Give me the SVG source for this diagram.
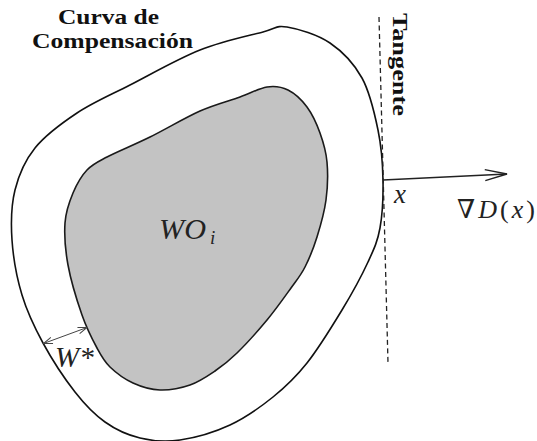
<svg xmlns="http://www.w3.org/2000/svg" width="537" height="441" viewBox="0 0 537 441">
  <style>
    .curve { fill: none; stroke: #111; stroke-width: 1.6; }
    .region { fill: #c3c3c3; stroke: #1a1a1a; stroke-width: 1.6; }
    .tangent { stroke: #222; stroke-width: 1.3; stroke-dasharray: 5 3.5; fill: none; }
    .title { font-family: "Liberation Serif", "Times New Roman", "DejaVu Serif", serif; font-weight: bold; font-size: 22px; fill: #111; }
    .math { font-family: "Liberation Serif", "Times New Roman", "DejaVu Serif", serif; font-style: italic; fill: #222; }
  </style>
  <defs>
    <marker id="openArrow" viewBox="0 0 24 16" refX="23" refY="8" markerWidth="24" markerHeight="16" markerUnits="userSpaceOnUse" orient="auto">
      <path d="M1,2.5 L23,8 L1,13.5" fill="none" stroke="#222" stroke-width="1.4"/>
    </marker>
    <marker id="smallArrow" viewBox="0 0 10 8" refX="9.5" refY="4" markerWidth="10" markerHeight="8" markerUnits="userSpaceOnUse" orient="auto-start-reverse">
      <path d="M0.5,0.8 L9.5,4 L0.5,7.2" fill="none" stroke="#444" stroke-width="1"/>
    </marker>
  </defs>

  <g id="compensation-curve">
    <path class="curve" d="M287,27 C298.2,28.8 317.5,34.5 330,43 C342.5,51.5 354,63.5 362,78 C370,92.5 374.5,113 378,130 C381.5,147 382.7,163.7 383,180 C383.3,196.3 382.5,214.3 380,228 C377.5,241.7 374.3,248.3 368,262 C361.7,275.7 352.2,293.2 342,310 C331.8,326.8 318.5,348.5 307,363 C295.5,377.5 285.8,386.7 273,397 C260.2,407.3 245.5,417.8 230,425 C214.5,432.2 195,437.8 180,440 C165,442.2 152.5,441 140,438 C127.5,435 115.8,429.7 105,422 C94.2,414.3 85.3,405.2 75,392 C64.7,378.8 51.8,359.2 43,343 C34.2,326.8 27.2,312.2 22,295 C16.8,277.8 13.2,257.5 12,240 C10.8,222.5 11.2,205.3 15,190 C18.8,174.7 24.7,160.8 35,148 C45.3,135.2 61.2,123.5 77,113 C92.8,102.5 109.5,95.5 130,85 C150.5,74.5 177.8,58.8 200,50 C222.2,41.2 248.5,35.8 263,32 C277.5,28.2 275.8,25.2 287,27 Z"/>
  </g>

  <g id="wo-region">
    <path class="region" d="M267,87 C275,85.8 281.3,86.7 288,90 C294.7,93.3 301.7,99.8 307,107 C312.3,114.2 316.7,123.8 320,133 C323.3,142.2 326,150.8 327,162 C328,173.2 327.7,187.5 326,200 C324.3,212.5 320.5,225.8 317,237 C313.5,248.2 309.3,258.5 305,267 C300.7,275.5 297.3,279.2 291,288 C284.7,296.8 276,309.2 267,320 C258,330.8 245.7,344.5 237,353 C228.3,361.5 222.8,365.7 215,371 C207.2,376.3 199.2,381.8 190,385 C180.8,388.2 169.5,390.3 160,390 C150.5,389.7 141.3,386.8 133,383 C124.7,379.2 116,372.8 110,367 C104,361.2 101.7,356.7 97,348 C92.3,339.3 86.8,328.8 82,315 C77.2,301.2 70.8,280.3 68,265 C65.2,249.7 64.2,235 65,223 C65.8,211 69.3,201.8 73,193 C76.7,184.2 81.3,176 87,170 C92.7,164 96.5,162.5 107,157 C117.5,151.5 134.5,144.7 150,137 C165.5,129.3 185,117.7 200,111 C215,104.3 228.8,101 240,97 C251.2,93 259,88.2 267,87 Z"/>
    <text class="math" x="159" y="239" font-size="29" fill="#333" textLength="47" lengthAdjust="spacingAndGlyphs">WO</text>
    <text class="math" x="210" y="244" font-size="19" fill="#333">i</text>
  </g>

  <g id="tangent-line">
    <line class="tangent" x1="379" y1="17" x2="388" y2="363"/>
    <text class="title" font-size="23" transform="translate(393,13) rotate(90)" textLength="103" lengthAdjust="spacingAndGlyphs">Tangente</text>
  </g>

  <g id="labels">
    <text class="title" x="58" y="23.5" textLength="101" lengthAdjust="spacingAndGlyphs">Curva de</text>
    <text class="title" x="32" y="48" textLength="161" lengthAdjust="spacingAndGlyphs">Compensación</text>
    <text class="math" x="394" y="203" font-size="27">x</text>
    <text class="math" x="457" y="218" font-size="26" textLength="78" lengthAdjust="spacing"><tspan font-style="normal">∇</tspan>D<tspan font-style="normal">(</tspan>x<tspan font-style="normal">)</tspan></text>
    <text class="math" x="55" y="367" font-size="29" fill="#444">W*</text>
  </g>

  <g id="connectors">
    <line x1="383" y1="180" x2="507" y2="174" stroke="#222" stroke-width="1.5" marker-end="url(#openArrow)"/>
    <line x1="43.5" y1="343.5" x2="87" y2="327.5" stroke="#444" stroke-width="1" marker-start="url(#smallArrow)" marker-end="url(#smallArrow)"/>
  </g>
</svg>
